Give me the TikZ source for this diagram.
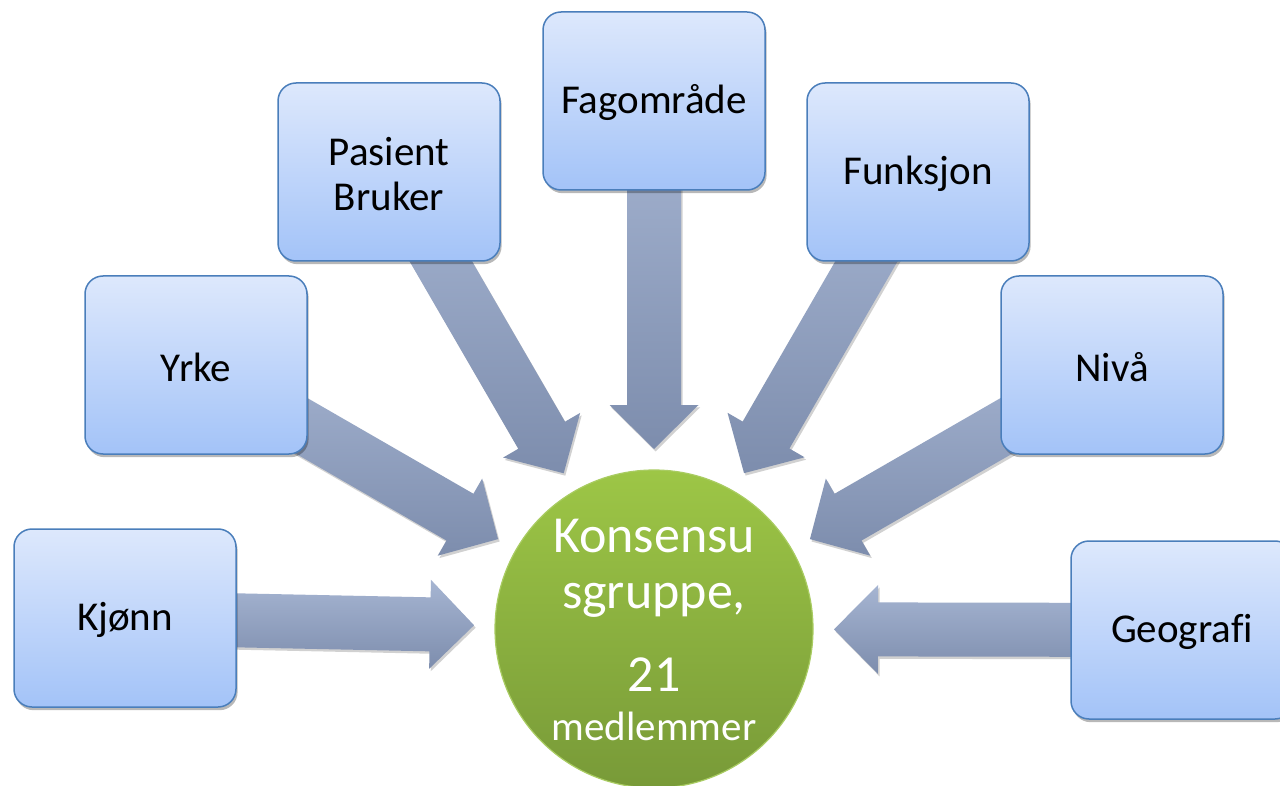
\documentclass[tikz,border=0pt]{standalone}
\usepackage{fontspec}
\setmainfont{Carlito}[Ligatures=NoCommon]
\usetikzlibrary{calc,shadows}
\definecolor{boxtop}{HTML}{DDE8FC}
\definecolor{boxbot}{HTML}{A3C3F8}
\definecolor{boxline}{HTML}{4A7EBB}
\definecolor{arrtop}{HTML}{A6B5D2}
\definecolor{arrbot}{HTML}{7D8DAD}
\definecolor{grtop}{HTML}{9DC646}
\definecolor{grbot}{HTML}{789A38}
\definecolor{grline}{HTML}{A9CC62}
\pgfdeclarelayer{bg}
\pgfsetlayers{bg,main}
\tikzset{
  catbox/.style={rectangle, rounded corners=9pt, draw=boxline, line width=0.75pt,
    top color=boxtop, bottom color=boxbot, minimum width=111pt, minimum height=89pt,
    inner sep=0pt,
    drop shadow={shadow xshift=0.8pt, shadow yshift=-1.6pt, opacity=0.28, fill=black},
    label={[boxtext]center:#1}},
  boxtext/.style={align=center, font=\fontsize{20.5}{22.5}\selectfont, text=black,
    inner sep=0pt, yshift=-1pt},
  arrowfill/.style={top color=arrtop, bottom color=arrbot, draw=none,
    drop shadow={shadow xshift=0.8pt, shadow yshift=-1.2pt, opacity=0.18, fill=black}},
  ctext/.style={text=white, anchor=base, inner sep=0pt},
}
\newcommand\blockarrow[2]{%
  \coordinate (hb) at ($(#2.center)!112pt!(#1.center)$);
  \coordinate (tp) at ($(#2.center)!90pt!(#1.center)$);
  \path[arrowfill]
    ($(#1.center)!13.5pt!90:(#2.center)$) --
    ($(hb)!13.5pt!90:(#2.center)$) --
    ($(hb)!22.25pt!90:(#2.center)$) --
    (tp) --
    ($(hb)!22.25pt!-90:(#2.center)$) --
    ($(hb)!13.5pt!-90:(#2.center)$) --
    ($(#1.center)!13.5pt!-90:(#2.center)$) -- cycle;
}
\begin{document}
\begin{tikzpicture}[x=0.5pt,y=-0.5pt]
\useasboundingbox (0,0) rectangle (1280,786);

\node[circle, minimum size=159pt, inner sep=0pt, top color=grtop, bottom color=grbot,
      draw=grline, line width=0.6pt] (c) at (654,629) {};
\node[ctext, font=\fontsize{26}{26}\selectfont] (t1) at (654,552) {Konsensu};
\node[ctext, font=\fontsize{26}{26}\selectfont] (t2) at (654,608) {sgruppe,};
\node[ctext, font=\fontsize{26}{26}\selectfont] (t3) at (654,691) {21};
\node[ctext, font=\fontsize{20.5}{20.5}\selectfont] (t4) at (654,740) {medlemmer};

\node[catbox={Kjønn}] (kj) at (125,618) {};
\node[catbox={Yrke}] (yr) at (196,365) {};
\node[catbox={Pasient\\Bruker}] (pb) at (389,172) {};
\node[catbox={Fagområde}] (fa) at (654,101) {};
\node[catbox={Funksjon}] (fu) at (918,172) {};
\node[catbox={Nivå}] (ni) at (1112,365) {};
\node[catbox={Geografi}] (ge) at (1182,630) {};

\begin{pgfonlayer}{bg}
  \fill[white] (0,0) rectangle (1280,786);
  \blockarrow{kj}{c}
  \blockarrow{yr}{c}
  \blockarrow{pb}{c}
  \blockarrow{fa}{c}
  \blockarrow{fu}{c}
  \blockarrow{ni}{c}
  \blockarrow{ge}{c}
\end{pgfonlayer}
\end{tikzpicture}
\end{document}
